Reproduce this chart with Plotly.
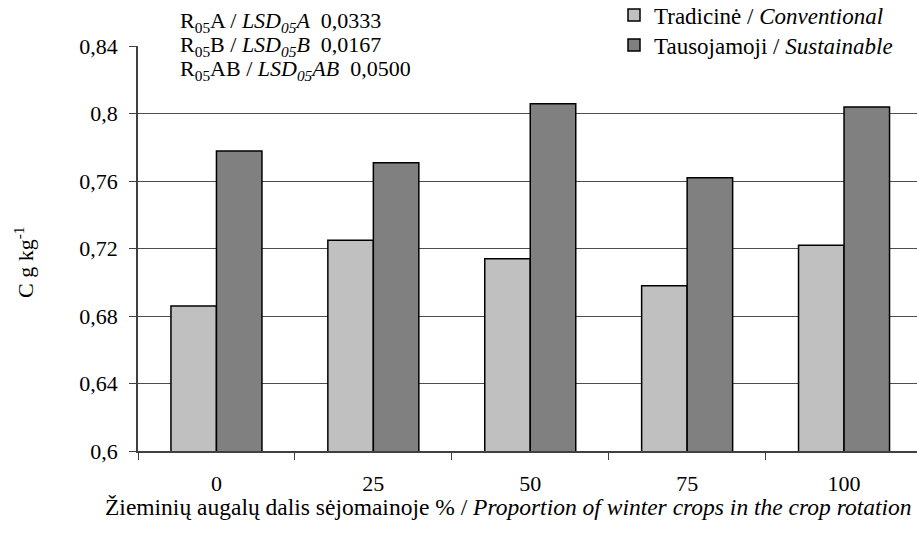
import plotly.graph_objects as go

categories = ["0", "25", "50", "75", "100"]
conventional = [0.686, 0.725, 0.714, 0.698, 0.722]
sustainable = [0.778, 0.771, 0.806, 0.762, 0.804]
series_names = ["Tradicinė / <i>Conventional</i>", "Tausojamoji / <i>Sustainable</i>"]
y_tickvals = [0.6, 0.64, 0.68, 0.72, 0.76, 0.8, 0.84]
y_ticktext = ["0,6", "0,64", "0,68", "0,72", "0,76", "0,8", "0,84"]
lsd_lines = [
    "R<sub>05</sub>A / <i>LSD<sub>05</sub>A</i>\u00a0\u00a00,0333",
    "R<sub>05</sub>B / <i>LSD<sub>05</sub>B</i>\u00a0\u00a00,0167",
    "R<sub>05</sub>AB / <i>LSD<sub>05</sub>AB</i>\u00a0\u00a00,0500",
]

FONT = "Liberation Serif"
FS = 22
W, H = 917, 535
L, R, T, B = 138, 0, 46, 84
pw, ph = W - L - R, H - T - B

def px(x):
    return (x - L) / pw

def py(y):
    return (H - B - y) / ph

fig = go.Figure()
fig.add_trace(go.Bar(x=categories, y=conventional, name=series_names[0], legend="legend",
                     marker=dict(color="#C0C0C0", line=dict(color="#000000", width=1.5))))
fig.add_trace(go.Bar(x=categories, y=sustainable, name=series_names[1], legend="legend2",
                     marker=dict(color="#808080", line=dict(color="#000000", width=1.5))))

legend_common = dict(x=px(614), xanchor="left", yanchor="middle",
                     bgcolor="rgba(0,0,0,0)", font=dict(family=FONT, size=23))

fig.update_layout(
    width=W, height=H,
    margin=dict(l=L, r=R, t=T, b=B, autoexpand=False),
    paper_bgcolor="white", plot_bgcolor="white",
    font=dict(family=FONT, size=FS, color="#000000"),
    barmode="group", bargap=0.42, bargroupgap=0,
    showlegend=True,
    legend=dict(y=py(15), **legend_common),
    legend2=dict(y=py(45), **legend_common),
    xaxis=dict(range=[-0.5, 4.465], showline=True, linecolor="#404040", linewidth=1.5,
               ticks="outside", ticklen=7, tickcolor="#404040", tickson="boundaries",
               showgrid=False, ticklabelstandoff=12, tickfont=dict(family=FONT, size=FS)),
    yaxis=dict(range=[0.6, 0.8402], tickvals=y_tickvals, ticktext=y_ticktext,
               showline=True, linecolor="#404040", linewidth=1.5,
               ticks="outside", ticklen=7, tickcolor="#404040",
               showgrid=True, gridcolor="#4d4d4d", gridwidth=1,
               zeroline=False, ticklabelstandoff=7, tickfont=dict(family=FONT, size=FS)),
)

# white masks hiding the top gridline behind text block and legend
fig.add_shape(type="rect", xref="paper", yref="paper", x0=px(160), x1=px(473),
              y0=py(52), y1=py(40), fillcolor="white", line=dict(width=0), layer="above")
fig.add_shape(type="rect", xref="paper", yref="paper", x0=px(581), x1=px(917),
              y0=py(52), y1=py(40), fillcolor="white", line=dict(width=0), layer="above")

for line_text, ypix in zip(lsd_lines, [22, 46, 70]):
    fig.add_annotation(xref="paper", yref="paper", x=px(179), y=py(ypix), xanchor="left",
                       yanchor="middle", align="left", showarrow=False, height=22,
                       borderpad=0, text=line_text, font=dict(family=FONT, size=FS))

fig.add_annotation(xref="paper", yref="paper", x=px(24), y=py(262), textangle=-90,
                   xanchor="center", yanchor="middle", showarrow=False,
                   text="C g kg<sup>-1</sup>", font=dict(family=FONT, size=FS))

fig.add_annotation(xref="paper", yref="paper", x=px(508), y=py(507), xanchor="center",
                   yanchor="middle", showarrow=False,
                   text="Žieminių augalų dalis sėjomainoje % / <i>Proportion of winter crops in the crop rotation</i>",
                   font=dict(family=FONT, size=23.5))

fig.write_html("out.html", config={"displayModeBar": False},
               post_script="document.body.style.margin='0';")
